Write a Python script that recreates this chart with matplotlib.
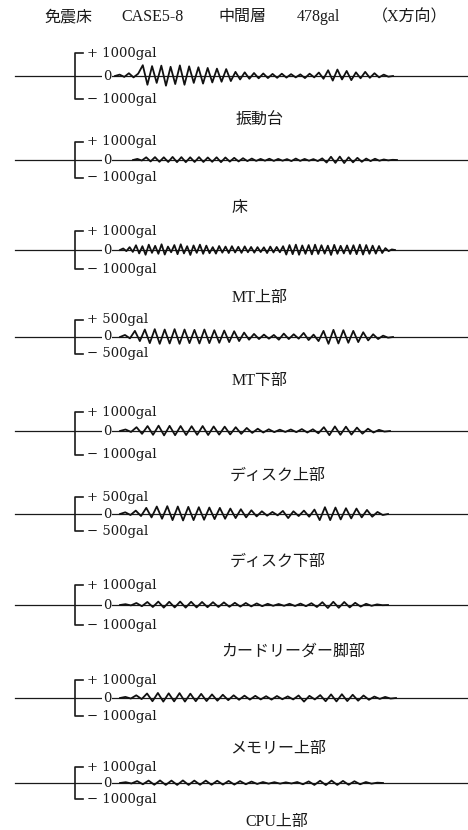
import numpy as np
import matplotlib.pyplot as plt

W, H = 468, 830
SERIF = ['DejaVu Serif']
JP = ['Liberation Serif', 'Noto Sans CJK JP']
INK = '#1a1a1a'

title_parts = ['免震床', 'CASE5-8', '中間層', '478gal', '（X方向）']
title_x = [68, 152, 242, 318, 410]

names = ['振動台', '床', 'MT上部', 'MT下部', 'ディスク上部', 'ディスク下部',
         'カードリーダー脚部', 'メモリー上部', 'CPU上部']
full_scale = [1000, 1000, 1000, 500, 1000, 500, 1000, 1000, 1000]

# start / end of each record (s)
t_start = [-0.3, 1.5, 0.2, 0.2, 0.2, 0.2, 0.2, 0.2, 0.2]
t_end = [27.5, 27.9, 27.7, 27.5, 27.2, 27.0, 27.0, 27.8, 26.5]

# half-cycle peaks (gal)
acc_shindodai = [0, 60, -40, 120, -60, 100, 470, -380, 430, -300, 450, -420, 400, -350,
                 460, -380, 420, -300, 380, -330, 350, -280, 320, -250, 300, -220,
                 180, -150, 160, -120, 130, -100, 110, -90, 90, -80, 100, -70, 80, -60,
                 70, -90, 100, -60, 150, -120, 250, -200, 280, -150, 220, -180, 160,
                 -100, 180, -80, 120, -60, 60, -30, 0]
acc_yuka = [0, 60, -30, 150, -80, 160, -100, 150, -110, 170, -120, 160, -120, 150, -110,
            160, -110, 140, -100, 150, -120, 140, -90, 120, -80, 100, -60, 80, -50, 60,
            -40, 70, -50, 60, -40, 50, -60, 80, -50, 60, -40, 50, -60, 90, -140, 180,
            -160, 190, -170, 150, -130, 120, -100, 80, -60, 70, -40, 30, -20, 10, 0]
acc_mt_top = [0, 80, -60, 150, -100, 250, -180, 200, -250, 280, -150, 220, -200, 300,
              -240, 180, -120, 260, -220, 300, -180, 200, -260, 240, -150, 280, -200,
              230, -170, 150, -190, 210, -140, 180, -160, 200, -130, 170, -150, 190,
              -120, 160, -140, 150, -110, 140, -160, 180, -130, 160, -120, 200, -240,
              260, -220, 280, -250, 240, -200, 260, -230, 280, -210, 250, -190, 230,
              -260, 270, -200, 220, -180, 240, -210, 250, -220, 280, -240, 260, -200,
              230, -190, 210, -160, 100, -60, 30, 0]
acc_mt_bottom = [0, 60, -40, 180, -120, 220, -180, 230, -200, 220, -190, 230, -200, 220,
                 -180, 210, -190, 220, -180, 200, -170, 190, -150, 170, -120, 130, -80,
                 90, -60, 70, -50, 60, -80, 100, -60, 80, -50, 120, -90, 70, -120, 180,
                 -200, 210, -190, 200, -170, 180, -150, 140, -100, 80, -60, 40, -20, 0]
acc_disk_top = [0, 80, -50, 200, -150, 260, -200, 280, -230, 270, -220, 260, -210, 250,
                -200, 260, -210, 240, -190, 230, -180, 200, -150, 160, -100, 120, -80,
                90, -60, 70, -50, 80, -60, 100, -80, 90, -120, 200, -220, 240, -200,
                230, -190, 180, -140, 120, -80, 60, -30, 0]
acc_disk_bottom = [0, 50, -30, 100, -60, 180, -100, 220, -140, 230, -180, 220, -190, 210,
                   -180, 200, -170, 190, -150, 180, -140, 160, -120, 140, -100, 110, -70,
                   80, -50, 60, -40, 90, -120, 80, -60, 100, -80, 130, -180, 200, -180,
                   190, -160, 170, -130, 160, -100, 120, -80, 60, -30, 0]
acc_card = [0, 40, -20, 100, -60, 150, -100, 170, -130, 160, -120, 170, -130, 160, -120,
            150, -110, 140, -100, 130, -90, 110, -80, 100, -70, 80, -60, 60, -40, 50,
            -40, 60, -50, 70, -60, 90, -100, 140, -150, 160, -140, 150, -120, 110, -80,
            60, -40, 30, -10, 0]
acc_memory = [0, 60, -30, 150, -60, 250, -180, 280, -200, 260, -190, 270, -200, 240,
              -180, 230, -170, 200, -150, 180, -120, 150, -100, 130, -90, 120, -80, 100,
              -90, 110, -70, 90, -80, 140, -200, 120, -80, 160, -180, 200, -190, 210,
              -170, 180, -150, 140, -100, 80, -50, 60, -30, 0]
acc_cpu = [0, 50, -30, 120, -80, 150, -110, 160, -120, 150, -120, 160, -120, 150, -110,
           150, -110, 140, -100, 130, -100, 120, -80, 90, -60, 60, -40, 50, -40, 40, -30,
           60, -80, 100, -120, 140, -130, 150, -120, 130, -110, 110, -80, 60, -40, 20, 0]

traces = [acc_shindodai, acc_yuka, acc_mt_top, acc_mt_bottom, acc_disk_top,
          acc_disk_bottom, acc_card, acc_memory, acc_cpu]

# layout (pixels)
base_y = [76, 160, 250, 337, 431, 514, 605, 698, 783]
label_y = [121, 208, 298, 381, 476, 562, 652, 749, 822]
label_x = [260, 240, 260, 260, 278, 278, 293, 278, 277]
bracket_px = [23, 18, 19, 17, 19, 17, 20, 18, 16]
lower_arm = [1, 1, 1, 1, 1.25, 1, 1, 1, 1]
half_px = 34

fig = plt.figure(figsize=(W / 100, H / 100), dpi=100)
for part, x in zip(title_parts, title_x):
    fig.text(x / W, 1 - 17 / H, part, ha='center', va='center', fontsize=11.5,
             family=JP, color=INK)

for i, acc in enumerate(traces):
    fs = full_scale[i]
    ax = fig.add_axes([0, 1 - (base_y[i] + half_px) / H, 1, 2 * half_px / H])
    ax.set_xlim(-11.8, 35.0)
    lim = fs * half_px / bracket_px[i]
    ax.set_ylim(-lim, lim)
    ax.axis('off')
    ax.patch.set_alpha(0)

    ax.plot([-10.3, 34.9], [0, 0], color=INK, lw=0.9)
    t = np.linspace(t_start[i], t_end[i], len(acc))
    ax.plot(t, acc, color='#111111', lw=1.3, solid_joinstyle='round')

    lo = -fs * lower_arm[i]
    ax.plot([-3.5, -4.3, -4.3, -3.5], [fs, fs, lo, lo], color=INK, lw=1.2)
    ax.text(-3.1, fs, f'+ {fs}gal', ha='left', va='center', fontsize=9.5,
            family=SERIF, color=INK)
    ax.text(-3.1, lo, f'− {fs}gal', ha='left', va='center', fontsize=9.5,
            family=SERIF, color=INK)
    ax.text(-1.1, 0, '0', ha='center', va='center', fontsize=9.5, family=SERIF,
            color=INK, bbox=dict(facecolor='white', edgecolor='none', pad=0.3))

    fig.text(label_x[i] / W, 1 - label_y[i] / H, names[i], ha='center', va='center',
             fontsize=11.5, family=JP, color=INK)

fig.savefig('out.png', dpi=100, facecolor='white')
